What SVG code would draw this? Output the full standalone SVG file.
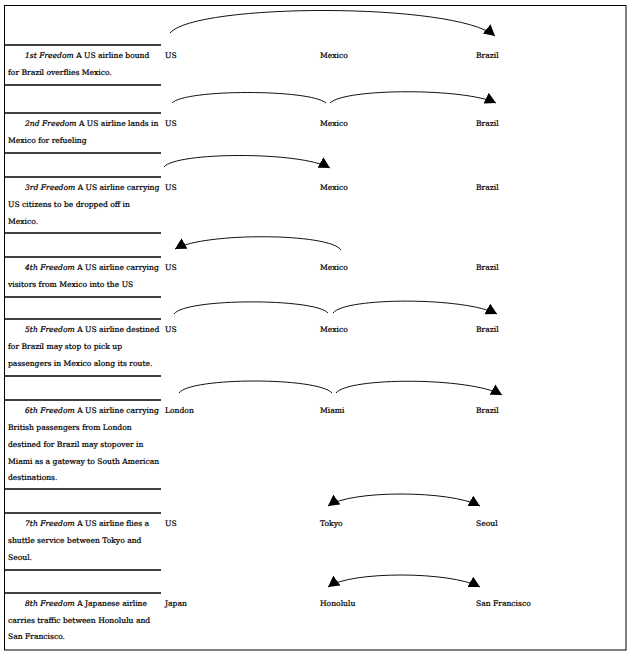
<svg xmlns="http://www.w3.org/2000/svg" width="634" height="656" viewBox="0 0 634 656">
<style>
text{font-family:"DejaVu Serif","Liberation Serif",serif;font-size:7.6px;fill:#000;stroke:#000;stroke-width:0.22}
.it{font-style:italic}
.rule{stroke:#000;stroke-width:1.3}
.arc{fill:none;stroke:#111;stroke-width:1}
</style>
<defs>
<marker id="ah" markerUnits="userSpaceOnUse" markerWidth="12" markerHeight="12" refX="11" refY="6" orient="auto">
<path d="M0,0 L11,6 L0,12 z" fill="#000"/>
</marker>
<marker id="ahs" markerUnits="userSpaceOnUse" markerWidth="12" markerHeight="12" refX="11" refY="6" orient="auto-start-reverse">
<path d="M0,0 L11,6 L0,12 z" fill="#000"/>
</marker>
</defs>
<rect x="4.5" y="5.5" width="621.5" height="644.5" fill="#fff" stroke="#000" stroke-width="1"/>
<g id="table-rules">
<line class="rule" x1="4" y1="45" x2="161" y2="45"/>
<line class="rule" x1="4" y1="85" x2="161" y2="85"/>
<line class="rule" x1="4" y1="113" x2="161" y2="113"/>
<line class="rule" x1="4" y1="153" x2="161" y2="153"/>
<line class="rule" x1="4" y1="177" x2="161" y2="177"/>
<line class="rule" x1="4" y1="233" x2="161" y2="233"/>
<line class="rule" x1="4" y1="257" x2="161" y2="257"/>
<line class="rule" x1="4" y1="297" x2="161" y2="297"/>
<line class="rule" x1="4" y1="319" x2="161" y2="319"/>
<line class="rule" x1="4" y1="376" x2="161" y2="376"/>
<line class="rule" x1="4" y1="400" x2="161" y2="400"/>
<line class="rule" x1="4" y1="489" x2="161" y2="489"/>
<line class="rule" x1="4" y1="513" x2="161" y2="513"/>
<line class="rule" x1="4" y1="570" x2="161" y2="570"/>
<line class="rule" x1="4" y1="593" x2="161" y2="593"/>
</g>
<g id="freedom1"><text x="25" y="58"><tspan class="it">1st Freedom</tspan> A US airline bound</text><text x="8" y="75">for Brazil overflies Mexico.</text></g>
<g id="freedom2"><text x="25" y="126"><tspan class="it">2nd Freedom</tspan> A US airline lands in</text><text x="8" y="143">Mexico for refueling</text></g>
<g id="freedom3"><text x="25" y="190"><tspan class="it">3rd Freedom</tspan> A US airline carrying</text><text x="8" y="207">US citizens to be dropped off in</text><text x="8" y="224">Mexico.</text></g>
<g id="freedom4"><text x="25" y="270"><tspan class="it">4th Freedom</tspan> A US airline carrying</text><text x="8" y="287">visitors from Mexico into the US</text></g>
<g id="freedom5"><text x="25" y="332"><tspan class="it">5th Freedom</tspan> A US airline destined</text><text x="8" y="349">for Brazil may stop to pick up</text><text x="8" y="366">passengers in Mexico along its route.</text></g>
<g id="freedom6"><text x="25" y="413"><tspan class="it">6th Freedom</tspan> A US airline carrying</text><text x="8" y="430">British passengers from London</text><text x="8" y="447">destined for Brazil may stopover in</text><text x="8" y="464">Miami as a gateway to South American</text><text x="8" y="480">destinations.</text></g>
<g id="freedom7"><text x="25" y="526"><tspan class="it">7th Freedom</tspan> A US airline flies a</text><text x="8" y="543">shuttle service between Tokyo and</text><text x="8" y="560">Seoul.</text></g>
<g id="freedom8"><text x="25" y="606"><tspan class="it">8th Freedom</tspan> A Japanese airline</text><text x="8" y="623">carries traffic between Honolulu and</text><text x="8" y="639">San Francisco.</text></g>

<g id="r1-us"><text x="165" y="58">US</text></g>
<g id="r1-mexico"><text x="320" y="58">Mexico</text></g>
<g id="r1-brazil"><text x="476" y="58">Brazil</text></g>
<g id="r2-us"><text x="165" y="126">US</text></g>
<g id="r2-mexico"><text x="320" y="126">Mexico</text></g>
<g id="r2-brazil"><text x="476" y="126">Brazil</text></g>
<g id="r3-us"><text x="165" y="190">US</text></g>
<g id="r3-mexico"><text x="320" y="190">Mexico</text></g>
<g id="r3-brazil"><text x="476" y="190">Brazil</text></g>
<g id="r4-us"><text x="165" y="270">US</text></g>
<g id="r4-mexico"><text x="320" y="270">Mexico</text></g>
<g id="r4-brazil"><text x="476" y="270">Brazil</text></g>
<g id="r5-us"><text x="165" y="332">US</text></g>
<g id="r5-mexico"><text x="320" y="332">Mexico</text></g>
<g id="r5-brazil"><text x="476" y="332">Brazil</text></g>
<g id="r6-london"><text x="165" y="413">London</text></g>
<g id="r6-miami"><text x="320" y="413">Miami</text></g>
<g id="r6-brazil"><text x="476" y="413">Brazil</text></g>
<g id="r7-us"><text x="165" y="526">US</text></g>
<g id="r7-tokyo"><text x="320" y="526">Tokyo</text></g>
<g id="r7-seoul"><text x="476" y="526">Seoul</text></g>
<g id="r8-japan"><text x="165" y="606">Japan</text></g>
<g id="r8-honolulu"><text x="320" y="606">Honolulu</text></g>
<g id="r8-sf"><text x="476" y="606">San Francisco</text></g>

<g id="connectors">
<path class="arc" d="M170,33 C195,3 455,2 495,36" marker-end="url(#ah)"/>
<path class="arc" d="M172,103 C185,89 310,89 326,103"/>
<path class="arc" d="M330,103 C345,88 465,88 496,103" marker-end="url(#ah)"/>
<path class="arc" d="M164,167 C175,152 300,151 330,168" marker-end="url(#ah)"/>
<path class="arc" d="M341,250 C330,233 205,232 175,249" marker-end="url(#ah)"/>
<path class="arc" d="M174,314 C185,298 315,298 328,313"/>
<path class="arc" d="M333,313 C345,297 465,297 497,314" marker-end="url(#ah)"/>
<path class="arc" d="M179,393 C190,377 318,377 332,393"/>
<path class="arc" d="M336,393 C348,377 470,377 502,395" marker-end="url(#ah)"/>
<path class="arc" d="M328,506 C350,490 450,490 480,506" marker-start="url(#ahs)" marker-end="url(#ah)"/>
<path class="arc" d="M328,587 C350,571 450,571 480,587" marker-start="url(#ahs)" marker-end="url(#ah)"/>
</g>
</svg>
